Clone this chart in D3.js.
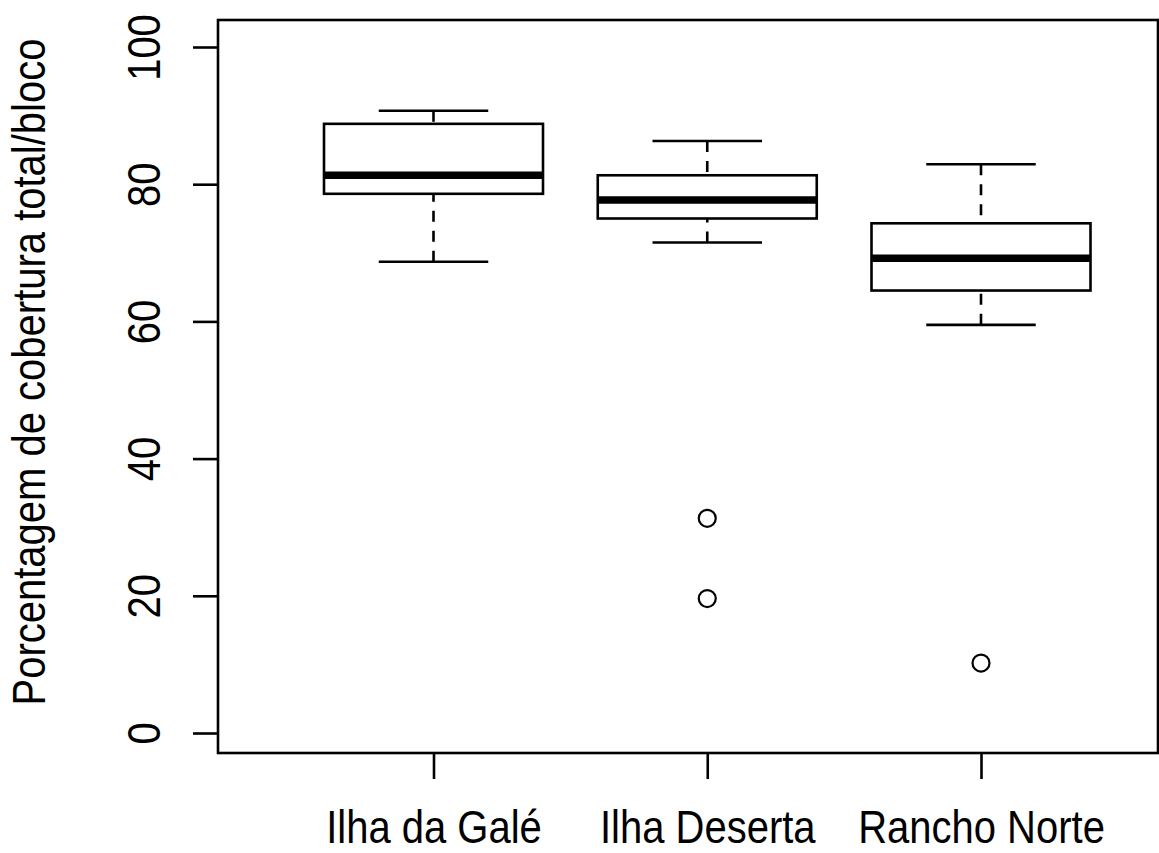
<!DOCTYPE html>
<html>
<head>
<meta charset="utf-8">
<script src="https://cdn.jsdelivr.net/npm/d3@7"></script>
<style>
  body { margin: 0; background: #ffffff; }
  text { font-family: "Liberation Sans", Arial, sans-serif; }
</style>
</head>
<body>
<div class="canvas"></div>
<script>
// box statistics
var categories = ["Ilha da Galé", "Ilha Deserta", "Rancho Norte"];
var lowerWhisker = [68.7, 71.5, 59.5];
var q1 = [78.6, 75.0, 64.5];
var median = [81.3, 77.7, 69.2];
var q3 = [88.8, 81.3, 74.3];
var upperWhisker = [90.7, 86.3, 82.9];
var outlierGroup = ["Ilha Deserta", "Ilha Deserta", "Rancho Norte"];
var outlierValue = [31.3, 19.6, 10.2];
var yTicks = [0, 20, 40, 60, 80, 100];

var boxes = categories.map(function(c, i){
	return {cat: c, lo: lowerWhisker[i], q1: q1[i], med: median[i], q3: q3[i], hi: upperWhisker[i]};
});
var outliers = outlierValue.map(function(v, i){ return {cat: outlierGroup[i], value: v}; });

var svg = d3.select(".canvas")
	.append("svg")
	.attr("width", 1159)
	.attr("height", 853);

svg.append("rect")
	.attr("width", 1159)
	.attr("height", 853)
	.attr("fill", "white");

var plotLeft = 218, plotRight = 1158, plotTop = 20, plotBottom = 753;
var stretch = 1.15; // the original text is drawn taller than it is wide

var x = d3.scalePoint()
	.domain(categories)
	.range([433.5, 981]);

var y = d3.scaleLinear()
	.domain([0, 100])
	.range([733, 47]);

var boxW = x.step() * 0.8;
var lw = 2.6;

// y axis
var yAxis = svg.append("g")
	.attr("transform", "translate(" + plotLeft + ",0)")
	.call(d3.axisLeft(y).tickValues(yTicks).tickSize(25).tickSizeOuter(0));
yAxis.select(".domain").remove();
yAxis.selectAll(".tick line").attr("stroke", "#000").attr("stroke-width", lw);
yAxis.selectAll(".tick text")
	.attr("x", 0)
	.attr("y", 0)
	.attr("dy", 0)
	.attr("transform", "rotate(-90) translate(0,-58) scale(1," + stretch + ")")
	.attr("text-anchor", "middle")
	.attr("font-size", "40px")
	.attr("font-family", "Liberation Sans, Arial, sans-serif")
	.attr("fill", "#000");

// x axis
var xAxis = svg.append("g")
	.attr("transform", "translate(0," + plotBottom + ")")
	.call(d3.axisBottom(x).tickSize(26).tickSizeOuter(0));
xAxis.select(".domain").remove();
xAxis.selectAll(".tick line").attr("stroke", "#000").attr("stroke-width", lw);
xAxis.selectAll(".tick text")
	.attr("y", 0)
	.attr("dy", 0)
	.attr("transform", "translate(0,90) scale(1," + stretch + ")")
	.attr("font-size", "40px")
	.attr("font-family", "Liberation Sans, Arial, sans-serif")
	.attr("fill", "#000");

// y title
svg.append("text")
	.attr("transform", "translate(45,372) rotate(-90) scale(1," + stretch + ")")
	.attr("text-anchor", "middle")
	.attr("font-size", "40px")
	.attr("fill", "#000")
	.text("Porcentagem de cobertura total/bloco");

// boxes
var g = svg.selectAll(".box")
	.data(boxes)
	.enter()
	.append("g")
	.attr("class", "box");

// whiskers, drawn from the cap toward the box
g.append("line")
	.attr("x1", function(d){ return x(d.cat); })
	.attr("x2", function(d){ return x(d.cat); })
	.attr("y1", function(d){ return y(d.lo); })
	.attr("y2", function(d){ return y(d.q1); })
	.attr("stroke", "#000")
	.attr("stroke-width", lw)
	.attr("stroke-dasharray", "11,9");

g.append("line")
	.attr("x1", function(d){ return x(d.cat); })
	.attr("x2", function(d){ return x(d.cat); })
	.attr("y1", function(d){ return y(d.hi); })
	.attr("y2", function(d){ return y(d.q3); })
	.attr("stroke", "#000")
	.attr("stroke-width", lw)
	.attr("stroke-dasharray", "11,9");

// caps
g.append("line")
	.attr("x1", function(d){ return x(d.cat) - boxW / 4; })
	.attr("x2", function(d){ return x(d.cat) + boxW / 4; })
	.attr("y1", function(d){ return y(d.lo); })
	.attr("y2", function(d){ return y(d.lo); })
	.attr("stroke", "#000")
	.attr("stroke-width", lw);

g.append("line")
	.attr("x1", function(d){ return x(d.cat) - boxW / 4; })
	.attr("x2", function(d){ return x(d.cat) + boxW / 4; })
	.attr("y1", function(d){ return y(d.hi); })
	.attr("y2", function(d){ return y(d.hi); })
	.attr("stroke", "#000")
	.attr("stroke-width", lw);

g.append("rect")
	.attr("x", function(d){ return x(d.cat) - boxW / 2; })
	.attr("y", function(d){ return y(d.q3); })
	.attr("width", boxW)
	.attr("height", function(d){ return y(d.q1) - y(d.q3); })
	.attr("fill", "white")
	.attr("stroke", "#000")
	.attr("stroke-width", lw);

g.append("line")
	.attr("x1", function(d){ return x(d.cat) - boxW / 2; })
	.attr("x2", function(d){ return x(d.cat) + boxW / 2; })
	.attr("y1", function(d){ return y(d.med); })
	.attr("y2", function(d){ return y(d.med); })
	.attr("stroke", "#000")
	.attr("stroke-width", 7.5);

svg.selectAll(".outlier")
	.data(outliers)
	.enter()
	.append("circle")
	.attr("class", "outlier")
	.attr("cx", function(d){ return x(d.cat); })
	.attr("cy", function(d){ return y(d.value); })
	.attr("r", 8.5)
	.attr("fill", "none")
	.attr("stroke", "#000")
	.attr("stroke-width", 2.2);

// plot frame
svg.append("rect")
	.attr("x", plotLeft)
	.attr("y", plotTop)
	.attr("width", plotRight - plotLeft)
	.attr("height", plotBottom - plotTop)
	.attr("fill", "none")
	.attr("stroke", "#000")
	.attr("stroke-width", lw);
</script>
</body>
</html>
